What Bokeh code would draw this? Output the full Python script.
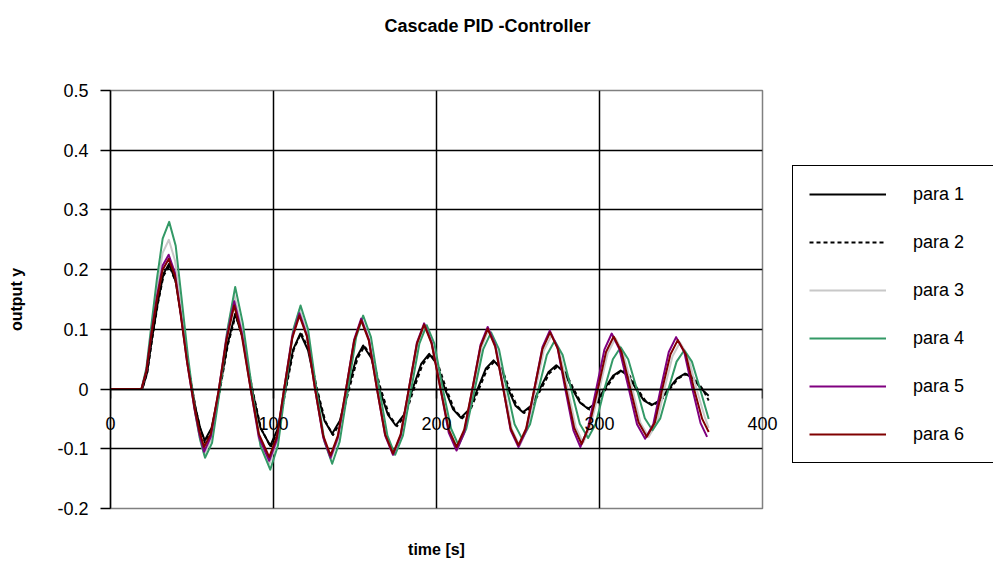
from bokeh.plotting import figure
from bokeh.models import FixedTicker, Legend, LegendItem, Title, LinearAxis
from bokeh.embed import file_html
from bokeh.resources import INLINE

# ---- data ----
x_ticks = [0, 100, 200, 300, 400]
y_ticks = [-0.2, -0.1, 0, 0.1, 0.2, 0.3, 0.4, 0.5]
y_tick_labels = ["-0.2", "-0.1", "0", "0.1", "0.2", "0.3", "0.4", "0.5"]

t1 = [0, 19.5, 22.5, 25.5, 29, 32.5, 36,
      40, 43.5, 47.5, 52, 55, 57.8,
      62, 67, 71.8, 76.5,
      81.2, 86.8, 92, 98,
      102.7, 107.3, 112, 116.5,
      121.2, 126.3, 131.3, 136,
      140.7, 145.8, 150.8, 155,
      160, 165, 170.2, 175,
      180, 185.3, 190.6, 195.5,
      200.2, 205.2, 210.2, 215,
      220, 225.2, 230.2, 235,
      239.5, 244, 248.5, 253,
      258, 263.3, 268.6, 273.5,
      278.5, 283.3, 288.1, 293,
      298, 303, 308.2, 313,
      317.8, 322.5, 327.2, 332,
      337, 342.3, 347.6, 352.5,
      357.5, 362.5, 367]
y1 = [0, 0, 0.028, 0.085, 0.145, 0.193, 0.21,
      0.18, 0.12, 0.04, -0.03, -0.065, -0.086,
      -0.065, 0, 0.075, 0.126,
      0.085, 0, -0.065, -0.095,
      -0.066, 0, 0.066, 0.093,
      0.065, 0, -0.053, -0.075,
      -0.053, 0, 0.052, 0.073,
      0.052, 0, -0.043, -0.061,
      -0.043, 0, 0.042, 0.059,
      0.042, 0, -0.034, -0.048,
      -0.034, 0, 0.034, 0.048,
      0.034, 0, -0.028, -0.039,
      -0.028, 0, 0.028, 0.040,
      0.028, 0, -0.023, -0.033,
      -0.023, 0, 0.022, 0.031,
      0.022, 0, -0.019, -0.027,
      -0.019, 0, 0.018, 0.026,
      0.018, 0, -0.011]

t2 = [0, 19.5, 22.5, 25.5, 29, 32.5, 36.2,
      40.2, 43.7, 47.7, 52.2, 55.2, 58,
      62.2, 67.2, 72, 76.8,
      81.5, 87, 92.3, 98.3,
      103, 107.6, 112.4, 116.9,
      121.6, 126.7, 131.8, 136.5,
      141.3, 146.4, 151.5, 155.8,
      160.8, 165.8, 171, 175.8,
      180.8, 186.1, 191.4, 196.3,
      201, 206, 211, 215.8,
      220.8, 226, 231, 235.8,
      240.3, 244.8, 249.3, 253.8,
      258.8, 264.1, 269.4, 274.3,
      279.3, 284.1, 288.9, 293.8,
      298.8, 303.8, 309, 313.8,
      318.6, 323.3, 328, 332.8,
      337.8, 343.1, 348.4, 353.3,
      358.3, 363.3, 367]
y2 = [0, 0, 0.027, 0.083, 0.142, 0.19, 0.206,
      0.178, 0.118, 0.04, -0.032, -0.068, -0.09,
      -0.068, 0, 0.074, 0.124,
      0.084, 0, -0.066, -0.097,
      -0.067, 0, 0.066, 0.094,
      0.066, 0, -0.054, -0.077,
      -0.054, 0, 0.051, 0.072,
      0.051, 0, -0.044, -0.062,
      -0.044, 0, 0.041, 0.058,
      0.041, 0, -0.035, -0.049,
      -0.035, 0, 0.033, 0.047,
      0.033, 0, -0.028, -0.040,
      -0.028, 0, 0.027, 0.038,
      0.027, 0, -0.024, -0.034,
      -0.024, 0, 0.022, 0.031,
      0.022, 0, -0.019, -0.027,
      -0.019, 0, 0.018, 0.025,
      0.018, 0, -0.019]

t3 = [0, 19, 22, 25, 28.5, 32, 35.8,
      39.6, 43.1, 47.1, 51.6, 54.6, 57.5,
      61.6, 66.6, 71.1, 76,
      80.6, 86.1, 91.1, 97.5,
      102.1, 106.6, 111.6, 116,
      120.6, 125.7, 130.7, 135.2,
      139.7, 144.8, 149.8, 154.1,
      158.8, 163.9, 168.9, 173.7,
      178.4, 183.5, 188.5, 192.9,
      197.5, 203, 208, 212.9,
      217.6, 222.6, 227.6, 232,
      236.7, 241.7, 246.2, 251,
      255.8, 260.8, 265.8, 270.6,
      275.4, 280.5, 285.5, 290,
      294.5, 300, 305, 309.8,
      314.6, 320.2, 325.2, 330.2,
      335.2, 339.8, 344.8, 349.4,
      354.4, 359.5, 364.5, 367]
y3 = [0, 0, 0.032, 0.097, 0.168, 0.228, 0.25,
      0.215, 0.14, 0.05, -0.035, -0.08, -0.11,
      -0.085, 0, 0.09, 0.157,
      0.1, 0, -0.085, -0.125,
      -0.088, 0, 0.093, 0.133,
      0.094, 0, -0.083, -0.117,
      -0.083, 0, 0.083, 0.118,
      0.083, 0, -0.078, -0.11,
      -0.078, 0, 0.076, 0.108,
      0.076, 0, -0.07, -0.1,
      -0.07, 0, 0.07, 0.1,
      0.07, 0, -0.067, -0.095,
      -0.067, 0, 0.064, 0.09,
      0.064, 0, -0.064, -0.09,
      -0.062, 0, 0.06, 0.085,
      0.06, 0, -0.057, -0.08,
      -0.057, 0, 0.055, 0.078,
      0.055, 0, -0.046, -0.065]

t4 = [0, 19, 22, 25, 28.5, 32, 36,
      40, 43.5, 47.5, 52, 55, 58,
      62.3, 67.2, 71.8, 76.5,
      81.2, 86.8, 92, 98,
      102.7, 107.3, 112.2, 116.6,
      121.2, 126.3, 131.3, 136,
      140.6, 145.7, 150.7, 155,
      159.8, 164.9, 169.9, 174.6,
      179.4, 184.5, 189.5, 194,
      198.7, 203.9, 208.9, 213.5,
      218.3, 223.5, 228.7, 233.5,
      238.3, 243.2, 247.9, 252.5,
      257.4, 262.6, 267.7, 272.5,
      277.4, 282.6, 287.9, 293,
      297.7, 303, 308.2, 313,
      317.6, 322.9, 327.8, 332.5,
      337.3, 342.3, 347.3, 352,
      356.7, 361.7, 367]
y4 = [0, 0, 0.035, 0.105, 0.185, 0.252, 0.28,
      0.24, 0.155, 0.055, -0.04, -0.085, -0.115,
      -0.09, 0, 0.1, 0.171,
      0.11, 0, -0.095, -0.135,
      -0.095, 0, 0.1, 0.14,
      0.1, 0, -0.088, -0.125,
      -0.088, 0, 0.087, 0.123,
      0.087, 0, -0.078, -0.11,
      -0.078, 0, 0.076, 0.107,
      0.076, 0, -0.066, -0.094,
      -0.066, 0, 0.067, 0.095,
      0.067, 0, -0.059, -0.083,
      -0.059, 0, 0.057, 0.081,
      0.057, 0, -0.058, -0.082,
      -0.058, 0, 0.05, 0.07,
      0.05, 0, -0.049, -0.069,
      -0.049, 0, 0.046, 0.065,
      0.046, 0, -0.05]

t5 = [0, 19, 22, 25, 28.5, 32, 35.7,
      39.5, 43, 47, 51.5, 54.5, 57.4,
      61.5, 66.5, 71, 75.9,
      80.5, 86, 91, 97.4,
      102, 106.5, 111.5, 115.9,
      120.5, 125.5, 130.5, 135,
      139.5, 144.5, 149.5, 153.8,
      158.5, 163.5, 168.5, 173.3,
      178, 183, 188, 192.4,
      197, 202.5, 207.5, 212.3,
      217, 222, 227, 231.4,
      236, 241, 245.5, 250.3,
      255, 260, 265, 269.5,
      274.2, 279, 284, 288.3,
      292.8, 298, 303, 307.5,
      312.3, 318, 323, 328,
      333, 337.5, 342.5, 347,
      352, 357, 362, 366]
y5 = [0, 0, 0.03, 0.092, 0.155, 0.207, 0.225,
      0.195, 0.128, 0.045, -0.033, -0.075, -0.105,
      -0.08, 0, 0.083, 0.147,
      0.095, 0, -0.08, -0.12,
      -0.085, 0, 0.088, 0.127,
      0.09, 0, -0.081, -0.115,
      -0.081, 0, 0.083, 0.118,
      0.083, 0, -0.078, -0.11,
      -0.078, 0, 0.078, 0.11,
      0.078, 0, -0.073, -0.103,
      -0.073, 0, 0.074, 0.104,
      0.074, 0, -0.069, -0.097,
      -0.069, 0, 0.07, 0.098,
      0.07, 0, -0.069, -0.097,
      -0.067, 0, 0.066, 0.093,
      0.066, 0, -0.059, -0.083,
      -0.059, 0, 0.062, 0.087,
      0.062, 0, -0.057, -0.08]

t6 = [0, 19, 22, 25, 28.5, 32, 35.7,
      39.5, 43, 47, 51.5, 54.5, 57.4,
      61.5, 66.5, 71, 75.9,
      80.5, 86, 91, 97.4,
      102, 106.5, 111.5, 115.9,
      120.5, 125.5, 130.5, 135,
      139.5, 144.5, 149.5, 153.8,
      158.5, 163.5, 168.5, 173.3,
      178, 183, 188, 192.4,
      197, 202.5, 207.5, 212.3,
      217, 222, 227, 231.4,
      236, 241, 245.5, 250.3,
      255, 260, 265, 269.7,
      274.5, 279.5, 284.5, 289,
      293.5, 299, 304, 308.7,
      313.5, 319, 324, 329,
      334, 338.5, 343.5, 348,
      353, 358, 363, 367]
y6 = [0, 0, 0.03, 0.09, 0.15, 0.2, 0.218,
      0.19, 0.126, 0.045, -0.03, -0.07, -0.097,
      -0.075, 0, 0.08, 0.14,
      0.09, 0, -0.075, -0.114,
      -0.08, 0, 0.085, 0.123,
      0.088, 0, -0.078, -0.111,
      -0.078, 0, 0.081, 0.115,
      0.081, 0, -0.076, -0.108,
      -0.076, 0, 0.076, 0.108,
      0.076, 0, -0.068, -0.097,
      -0.068, 0, 0.071, 0.101,
      0.071, 0, -0.066, -0.094,
      -0.066, 0, 0.067, 0.095,
      0.067, 0, -0.065, -0.092,
      -0.063, 0, 0.062, 0.088,
      0.062, 0, -0.056, -0.08,
      -0.056, 0, 0.058, 0.082,
      0.058, 0, -0.05, -0.072]

series = [
    ("para 1", t1, y1, "black", None),
    ("para 2", t2, y2, "black", "4 3"),
    ("para 3", t3, y3, "#C8C8C8", None),
    ("para 4", t4, y4, "#339966", None),
    ("para 5", t5, y5, "#800080", None),
    ("para 6", t6, y6, "#800000", None),
]

FONT = "Liberation Sans"

p = figure(frame_width=652, frame_height=418,
           x_range=(0, 400), y_range=(-0.2, 0.5),
           output_backend="svg", toolbar_location=None, title=None,
           min_border_left=110, min_border_right=231,
           min_border_top=90, min_border_bottom=59)

# title: a blank spacer next to the frame, the real title above it
p.add_layout(Title(text=" ", text_font=FONT, text_font_size="34px"), "above")
p.add_layout(Title(text="Cascade PID -Controller", align="left", offset=274,
                   text_font=FONT, text_font_size="18px",
                   text_font_style="bold", text_color="black"), "above")

p.background_fill_color = "white"
p.border_fill_color = "white"
p.outline_line_color = "#808080"
p.outline_line_width = 1.5

# grids
p.xgrid.ticker = FixedTicker(ticks=[100, 200, 300])
p.ygrid.ticker = FixedTicker(ticks=[-0.1, 0, 0.1, 0.2, 0.3, 0.4])
for g in (p.xgrid, p.ygrid):
    g.grid_line_color = "black"
    g.grid_line_width = 1.5
    g.grid_line_alpha = 1.0

# y axis
p.yaxis.ticker = FixedTicker(ticks=y_ticks)
p.yaxis.major_label_overrides = dict(zip(y_ticks, y_tick_labels))
p.yaxis.axis_line_color = "black"
p.yaxis.axis_line_width = 1.5
p.yaxis.major_tick_line_color = "black"
p.yaxis.major_tick_line_width = 1.5
p.yaxis.major_tick_out = 10
p.yaxis.major_tick_in = 0
p.yaxis.minor_tick_line_color = None
p.yaxis.major_label_standoff = 12
p.yaxis.major_label_text_font = FONT
p.yaxis.major_label_text_font_size = "18px"
p.yaxis.major_label_text_color = "black"
p.yaxis.axis_label = "output y"
p.yaxis.axis_label_text_font = FONT
p.yaxis.axis_label_text_font_size = "16px"
p.yaxis.axis_label_text_font_style = "bold"
p.yaxis.axis_label_text_color = "black"
p.yaxis.axis_label_standoff = 29

# bottom axis: tick labels pulled up to sit under the zero line, plus the title
p.xaxis.ticker = FixedTicker(ticks=x_ticks)
p.xaxis.axis_line_color = None
p.xaxis.major_tick_line_color = None
p.xaxis.major_tick_out = 0
p.xaxis.major_tick_in = 0
p.xaxis.minor_tick_line_color = None
p.xaxis.major_label_standoff = -92
p.xaxis.major_label_text_font = FONT
p.xaxis.major_label_text_font_size = "18px"
p.xaxis.major_label_text_color = "black"
p.xaxis.axis_label = "time [s]"
p.xaxis.axis_label_text_font = FONT
p.xaxis.axis_label_text_font_size = "16px"
p.xaxis.axis_label_text_font_style = "bold"
p.xaxis.axis_label_text_color = "black"
p.xaxis.axis_label_standoff = 108

# axis line and tick marks at y = 0
x0 = LinearAxis(fixed_location=0, ticker=FixedTicker(ticks=x_ticks),
                axis_line_color="black", axis_line_width=1.5,
                major_tick_line_color="black", major_tick_line_width=1.5,
                major_tick_out=9, major_tick_in=0,
                minor_tick_line_color=None,
                major_label_text_color=None, major_label_text_font_size="1px")
p.add_layout(x0, "below")

items = []
for name, tt, yy, col, dash in series:
    kw = dict(line_color=col, line_width=2, line_join="round")
    if dash:
        kw["line_dash"] = dash
    r = p.line(tt, yy, **kw)
    items.append(LegendItem(label=name, renderers=[r]))

legend = Legend(items=items, location=(30, 45), margin=0,
                glyph_width=77, glyph_height=24, label_height=24,
                spacing=24, padding=16, label_standoff=27, label_width=90,
                label_text_font=FONT, label_text_font_size="18px",
                label_text_color="black",
                border_line_color="black", border_line_width=1.5,
                border_line_alpha=1.0,
                background_fill_color="white", background_fill_alpha=1.0)
p.add_layout(legend, "right")

open("out.html", "w").write(file_html(p, INLINE))
